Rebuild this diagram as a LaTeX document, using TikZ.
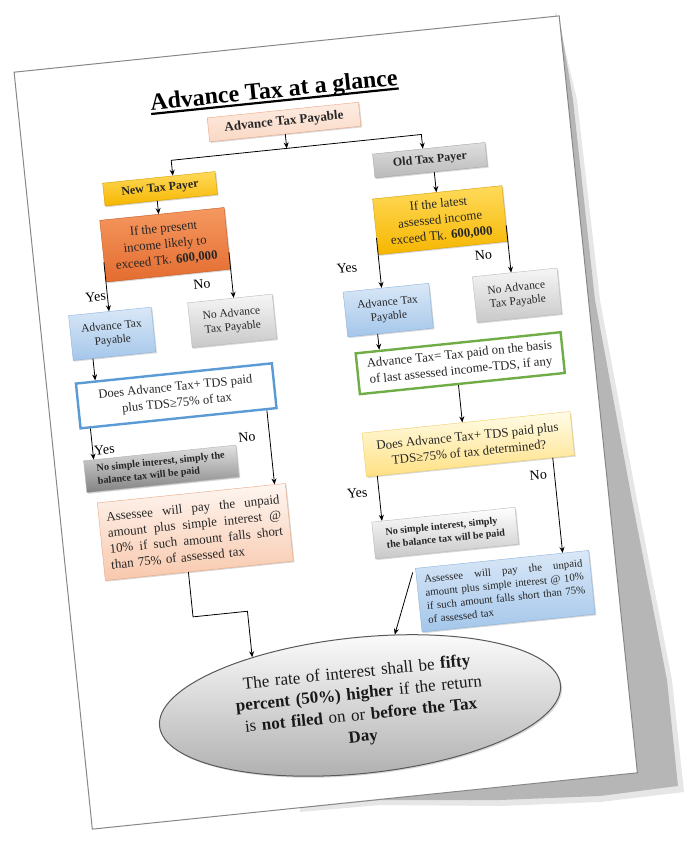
\documentclass[tikz,border=0pt]{standalone}
\usepackage{fontspec}
\setmainfont{Liberation Serif}
\usetikzlibrary{arrows.meta,shapes.geometric,shadows,calc}

\definecolor{pageline}{RGB}{135,135,135}
\definecolor{pageshade}{RGB}{182,182,182}
\definecolor{peachtop}{RGB}{253,236,226}
\definecolor{peachbot}{RGB}{248,200,172}
\definecolor{peachline}{RGB}{236,165,130}
\definecolor{goldtop}{RGB}{255,218,90}
\definecolor{goldbot}{RGB}{246,182,0}
\definecolor{goldline}{RGB}{214,158,0}
\definecolor{orangetop}{RGB}{245,152,96}
\definecolor{orangebot}{RGB}{228,108,48}
\definecolor{orangeline}{RGB}{196,88,30}
\definecolor{bluetop}{RGB}{218,232,247}
\definecolor{bluebot}{RGB}{164,198,234}
\definecolor{blueline}{RGB}{140,178,220}
\definecolor{lgraytop}{RGB}{246,246,246}
\definecolor{lgraybot}{RGB}{200,200,200}
\definecolor{lgrayline}{RGB}{185,185,185}
\definecolor{dgraytop}{RGB}{225,225,225}
\definecolor{dgraybot}{RGB}{130,130,130}
\definecolor{yellowtop}{RGB}{255,252,232}
\definecolor{yellowbot}{RGB}{255,224,130}
\definecolor{yellowline}{RGB}{240,205,100}
\definecolor{checkblue}{RGB}{91,155,213}
\definecolor{checkgreen}{RGB}{112,173,71}

% one justified line of a given width
\newcommand{\jline}[2]{\leavevmode\hbox to #1{\spaceskip=0.3em plus 3em\relax #2}}

\tikzset{
  box/.style={draw, rectangle, inner sep=2pt, align=center, text=black!85,
    drop shadow={shadow xshift=1.2pt, shadow yshift=-1.2pt, opacity=0.3}},
  plain/.style={draw, rectangle, inner sep=2pt, align=center, text=black!85, fill=white, line width=2.4pt},
  lbl/.style={inner sep=0pt, font=\fontsize{14}{16}\selectfont},
  arr/.style={-{Stealth[length=6pt,width=5pt]}, line width=0.8pt, black},
}

\begin{document}
\begin{tikzpicture}[x=1pt, y=1pt]
  \useasboundingbox (0,0) rectangle (689,-860);

  % shadow under the sheet
  \fill[pageshade, opacity=0.35] (556,-12) -- (577,-100) -- (600,-300) -- (637,-500)
    -- (672,-680) -- (684,-792) -- (600,-802) -- (500,-806) -- (380,-805) -- (300,-812)
    -- (300,-700) -- (450,-400) -- cycle;
  \fill[pageshade] (559,-16) -- (573,-100) -- (595,-300) -- (632,-500) -- (667,-680)
    -- (678,-786) -- (600,-796) -- (500,-800) -- (380,-800) -- (300,-808)
    -- (300,-700) -- (450,-400) -- cycle;

  \begin{scope}[shift={(325.75,-422.5)}, rotate=5.9, transform shape]
    \draw[fill=white, draw=pageline, line width=1pt] (-274,-380.5) rectangle (274,380.5);

    % title
    \node[inner sep=0pt, font=\fontsize{24}{28}\selectfont\bfseries] (title) at (-17.5,334) {Advance Tax at a glance};
    \draw[line width=2.2pt] ([yshift=-3.5pt]title.base west) -- ([yshift=-3.5pt]title.base east);

    % first rows
    \node[box, top color=peachtop, bottom color=peachbot!70!white, draw=peachline, minimum width=152pt, minimum height=24pt,
      font=\fontsize{13}{15}\selectfont\bfseries] (atp) at (-10.6,303.2) {Advance Tax Payable};
    \node[box, top color=goldtop, bottom color=goldbot, draw=goldline, minimum width=113pt, minimum height=23pt,
      font=\fontsize{12}{14}\selectfont\bfseries] (new) at (-140.8,249.5) {New Tax Payer};
    \node[box, top color=gray!25, bottom color=gray!55, draw=gray!70, minimum width=113pt, minimum height=24pt,
      font=\fontsize{12}{14}\selectfont\bfseries] (old) at (130.7,250.2) {Old Tax Payer};

    \node[box, top color=orangetop, bottom color=orangebot, draw=orangeline, minimum width=125pt, minimum height=62pt,
      font=\fontsize{12.8}{16}\selectfont] (ifnew) at (-141.5,193.3)
      {If the present\\income likely to\\exceed Tk. \textbf{600,000}};
    \node[box, top color=goldtop, bottom color=goldbot, draw=goldline, minimum width=130pt, minimum height=56pt,
      font=\fontsize{12.8}{16}\selectfont] (ifold) at (134.6,189.5)
      {If the latest\\assessed income\\exceed Tk. \textbf{600,000}};

    \node[box, top color=bluetop, bottom color=bluebot, draw=blueline, minimum width=83pt, minimum height=45pt,
      font=\fontsize{11.5}{14}\selectfont] (payableL) at (-203.3,110.2) {Advance Tax\\Payable};
    \node[box, top color=lgraytop, bottom color=lgraybot, draw=lgrayline, minimum width=85pt, minimum height=45pt,
      font=\fontsize{11.5}{14}\selectfont] (noL) at (-82.6,110.7) {No Advance\\Tax Payable};
    \node[box, top color=bluetop, bottom color=bluebot, draw=blueline, minimum width=86pt, minimum height=45pt,
      font=\fontsize{11.5}{14}\selectfont] (payableR) at (73.7,105.4) {Advance Tax\\Payable};
    \node[box, top color=lgraytop, bottom color=lgraybot, draw=lgrayline, minimum width=85pt, minimum height=46pt,
      font=\fontsize{11.5}{14}\selectfont] (noR) at (203.4,106.9) {No Advance\\Tax Payable};

    % checks
    \node[plain, draw=checkblue, minimum width=197pt, minimum height=45pt,
      font=\fontsize{12.6}{16}\selectfont] (checkL) at (-146,41.9) {Does Advance Tax+ TDS paid\\plus TDS≥75\% of tax};
    \node[plain, draw=checkgreen, minimum width=206pt, minimum height=41pt,
      font=\fontsize{12.8}{16}\selectfont] (basis) at (139.9,45.2)
      {Advance Tax= Tax paid on the basis\\of last assessed income-TDS, if any};
    \node[box, top color=yellowtop, bottom color=yellowbot, draw=yellowline, minimum width=209pt, minimum height=44pt,
      font=\fontsize{12.9}{16}\selectfont] (checkR) at (139.5,-36.2)
      {Does Advance Tax+ TDS paid plus\\TDS≥75\% of tax determined?};

    \node[box, top color=dgraytop, bottom color=dgraybot, draw=gray!60, minimum width=153pt, minimum height=32pt,
      align=left, font=\fontsize{10.2}{12.5}\selectfont\bfseries] (simpleL) at (-168.3,-29.2)
      {No simple interest, simply the\\balance tax will be paid};
    \node[box, top color=white, bottom color=lgraybot, draw=lgrayline, minimum width=144pt, minimum height=37pt,
      align=left, font=\fontsize{10.2}{13}\selectfont\bfseries] (simpleR) at (107.5,-122.3)
      {No simple interest, simply\\the balance tax will be paid};

    \node[box, top color=peachtop!50!white, bottom color=peachbot, draw=peachline, minimum width=189pt, minimum height=78pt,
      text width=174pt, align=left, font=\fontsize{13}{16}\selectfont] (interestL) at (-141,-95.5)
      {\jline{174pt}{Assessee will pay the unpaid}\\\jline{174pt}{amount plus simple interest @}\\\jline{174pt}{10\% if such amount falls short}\\than 75\% of assessed tax};
    \node[box, top color=bluetop, bottom color=bluebot, draw=blueline, minimum width=174pt, minimum height=64pt,
      text width=159pt, align=left, font=\fontsize{10.8}{13.5}\selectfont] (interestR) at (161.3,-186.3)
      {\jline{159pt}{Assessee will pay the unpaid}\\\jline{159pt}{amount plus simple interest @ 10\%}\\\jline{159pt}{if such amount falls short than 75\%}\\of assessed tax};

    \node[ellipse, draw=gray!70!black, line width=1pt, top color=white, bottom color=gray!65, inner sep=0pt,
      minimum width=396pt, minimum height=136pt, text width=285pt, align=center, text=black!90,
      drop shadow={shadow xshift=1.5pt, shadow yshift=-1.5pt, opacity=0.3},
      font=\fontsize{17}{21.5}\selectfont] (rate) at (5,-285)
      {The rate of interest shall be \textbf{fifty}\\\textbf{percent (50\%) higher} if the return\\is \textbf{not filed} on or \textbf{before the Tax}\\\textbf{Day}};

    % connectors
    \coordinate (split) at ($(atp.south)+(0,-14.3)$);
    \draw[arr] (atp.south) -- (split);
    \draw[arr] (split) -| ([xshift=14pt]new.north);
    \draw[arr] (split) -| ([xshift=-6pt]old.north);
    \draw[arr] ([xshift=-4pt]new.south) -- ([xshift=-4pt]new.south |- ifnew.north);
    \draw[arr] ([xshift=3pt]old.south) -- ([xshift=3pt]old.south |- ifold.north);

    \draw[arr] ([yshift=-11pt]ifnew.west) -- (ifnew.west |- payableL.north);
    \draw[arr] ([yshift=-14pt]ifnew.east) -- (ifnew.east |- noL.north);
    \draw[arr] ([yshift=-11pt]ifold.west) -- (ifold.west |- payableR.north);
    \draw[arr] ([yshift=-12pt]ifold.east) -- (ifold.east |- noR.north);

    \draw[arr] ([xshift=20pt]payableL.south west) -- ([xshift=20pt]payableL.south west |- checkL.north);
    \draw[arr] ([xshift=-13pt]payableR.south) -- ([xshift=-13pt]payableR.south |- basis.north);
    \draw[arr] ([xshift=11pt]checkL.south west) -- ([xshift=11pt]checkL.south west |- simpleL.north);
    \draw[arr] ([xshift=-11pt]checkL.south east) -- ([xshift=-11pt]checkL.south east |- interestL.north);
    \draw[arr] ([xshift=-4pt]basis.south) -- ([xshift=-4pt]basis.south |- checkR.north);
    \draw[arr] ([xshift=11pt]checkR.south west) -- ([xshift=11pt]checkR.south west |- simpleR.north);
    \draw[arr] ([xshift=-22pt]checkR.south east) -- ([xshift=-22pt]checkR.south east |- interestR.north);

    \draw[arr] ([xshift=-11pt]interestL.south) -- ++(0,-45) -| (rate.150);
    \draw[arr] ([shift={(-3pt,-4pt)}]interestR.north west) -- (rate.58);

    % yes / no
    \node[lbl] (yesA) at (-216,149) {Yes};
    \node[lbl] (noA) at (-109,150) {No};
    \node[lbl] (yesB) at (37,151.5) {Yes};
    \node[lbl] (noB) at (174,150) {No};
    \node[lbl] (yesC) at (-223,-4.5) {Yes};
    \node[lbl] (noC) at (-80,-6) {No};
    \node[lbl] (yesD) at (24,-73.4) {Yes};
    \node[lbl] (noD) at (206,-74.3) {No};
  \end{scope}
\end{tikzpicture}
\end{document}
